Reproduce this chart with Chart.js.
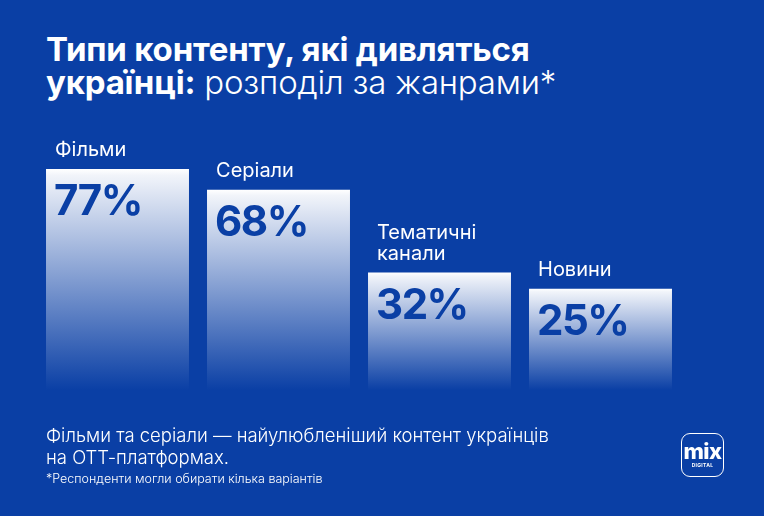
<!DOCTYPE html>
<html lang="uk">
<head>
<meta charset="utf-8">
<script src="https://cdn.jsdelivr.net/npm/chart.js@4.4.1/dist/chart.umd.min.js"></script>
<style>
  html, body { margin: 0; padding: 0; }
  body { width: 764px; height: 516px; overflow: hidden; }
  .card {
    position: relative; width: 764px; height: 516px;
    background: #0a3fa5; color: #fff;
    font-family: Inter, "Noto Sans", sans-serif;
  }
  .title {
    position: absolute; left: 46px; top: 33px;
    font-size: 33px; line-height: 33px; font-weight: 700; letter-spacing: -0.2px;
  }
  .title .light { font-weight: 300; }
  #chart { position: absolute; left: 0; top: 0; }
  .note {
    position: absolute; left: 46px; top: 424px;
    font-size: 18.5px; line-height: 22px; font-weight: 300;
  }
  .foot {
    position: absolute; left: 46px; top: 471px;
    font-size: 12.5px; font-weight: 300;
  }
  .logo {
    position: absolute; left: 681px; top: 433px; width: 41px; height: 42px;
    border: 1.5px solid #fff; border-radius: 9px; text-align: center;
  }
  .logo .m { font-size: 22px; font-weight: 800; line-height: 22px; margin-top: 6px; letter-spacing: -0.5px; }
  .logo .d { font-size: 5px; font-weight: 700; letter-spacing: 0.3px; }
</style>
</head>
<body>
<div class="card">
  <div class="title">Типи контенту, які дивляться<br>українці:<span class="light"> розподіл за жанрами*</span></div>
  <canvas id="chart" width="764" height="516"></canvas>
  <div class="note">Фільми та серіали — найулюбленіший контент українців<br>на ОТТ-платформах.</div>
  <div class="foot">*Респонденти могли обирати кілька варіантів</div>
  <div class="logo"><div class="m">mix</div><div class="d">DIGITAL</div></div>
</div>
<script>
  const categories = ['Фільми', 'Серіали', ['Тематичні', 'канали'], 'Новини'];
  const shares = [77, 68, 32, 25];
  const axisMin = -19;
  const axisMax = 100;

  const bgBlue = '#0a3fa5';

  // each bar fades from white at its top down to the background
  function barFill(context) {
    const chart = context.chart;
    const y = chart.scales.y;
    if (!y || context.raw == null) return '#ffffff';
    const top = y.getPixelForValue(context.raw);
    const bottom = y.getPixelForValue(axisMin);
    if (!isFinite(top) || !isFinite(bottom)) return '#ffffff';
    const g = chart.ctx.createLinearGradient(0, top, 0, bottom);
    g.addColorStop(0, '#ffffff');
    g.addColorStop(0.03, '#f1f4fa');
    g.addColorStop(1, bgBlue);
    return g;
  }

  const barLabels = {
    id: 'barLabels',
    afterDatasetsDraw(chart) {
      const ctx = chart.ctx;
      const meta = chart.getDatasetMeta(0);
      ctx.save();
      meta.data.forEach((bar, i) => {
        const left = bar.x - bar.width / 2 + 9;
        // category name above the bar
        const name = Array.isArray(categories[i]) ? categories[i] : [categories[i]];
        ctx.fillStyle = '#ffffff';
        ctx.font = '400 20px Inter, "Noto Sans", sans-serif';
        ctx.letterSpacing = '0px';
        ctx.textAlign = 'left';
        ctx.textBaseline = 'alphabetic';
        name.forEach((line, j) => {
          ctx.fillText(line, left, bar.y - 13 - (name.length - 1 - j) * 21);
        });
        // value inside the bar
        ctx.fillStyle = bgBlue;
        ctx.font = '700 42px Inter, "Noto Sans", sans-serif';
        ctx.letterSpacing = '-1.5px';
        ctx.fillText(shares[i] + '%', left - 1, bar.y + 46);
      });
      ctx.restore();
    }
  };

  const chart = new Chart(document.getElementById('chart'), {
    type: 'bar',
    data: {
      labels: categories,
      datasets: [{
        data: shares,
        base: axisMin,
        backgroundColor: barFill,
        borderWidth: 0,
        categoryPercentage: 1,
        barPercentage: 0.888
      }]
    },
    options: {
      responsive: false,
      animation: false,
      layout: { padding: { left: 37, right: 83, top: 116, bottom: 126 } },
      plugins: { legend: { display: false }, tooltip: { enabled: false } },
      scales: {
        x: { display: false },
        y: { display: false, min: axisMin, max: axisMax }
      }
    },
    plugins: [barLabels]
  });
  chart.update();
</script>
</body>
</html>
